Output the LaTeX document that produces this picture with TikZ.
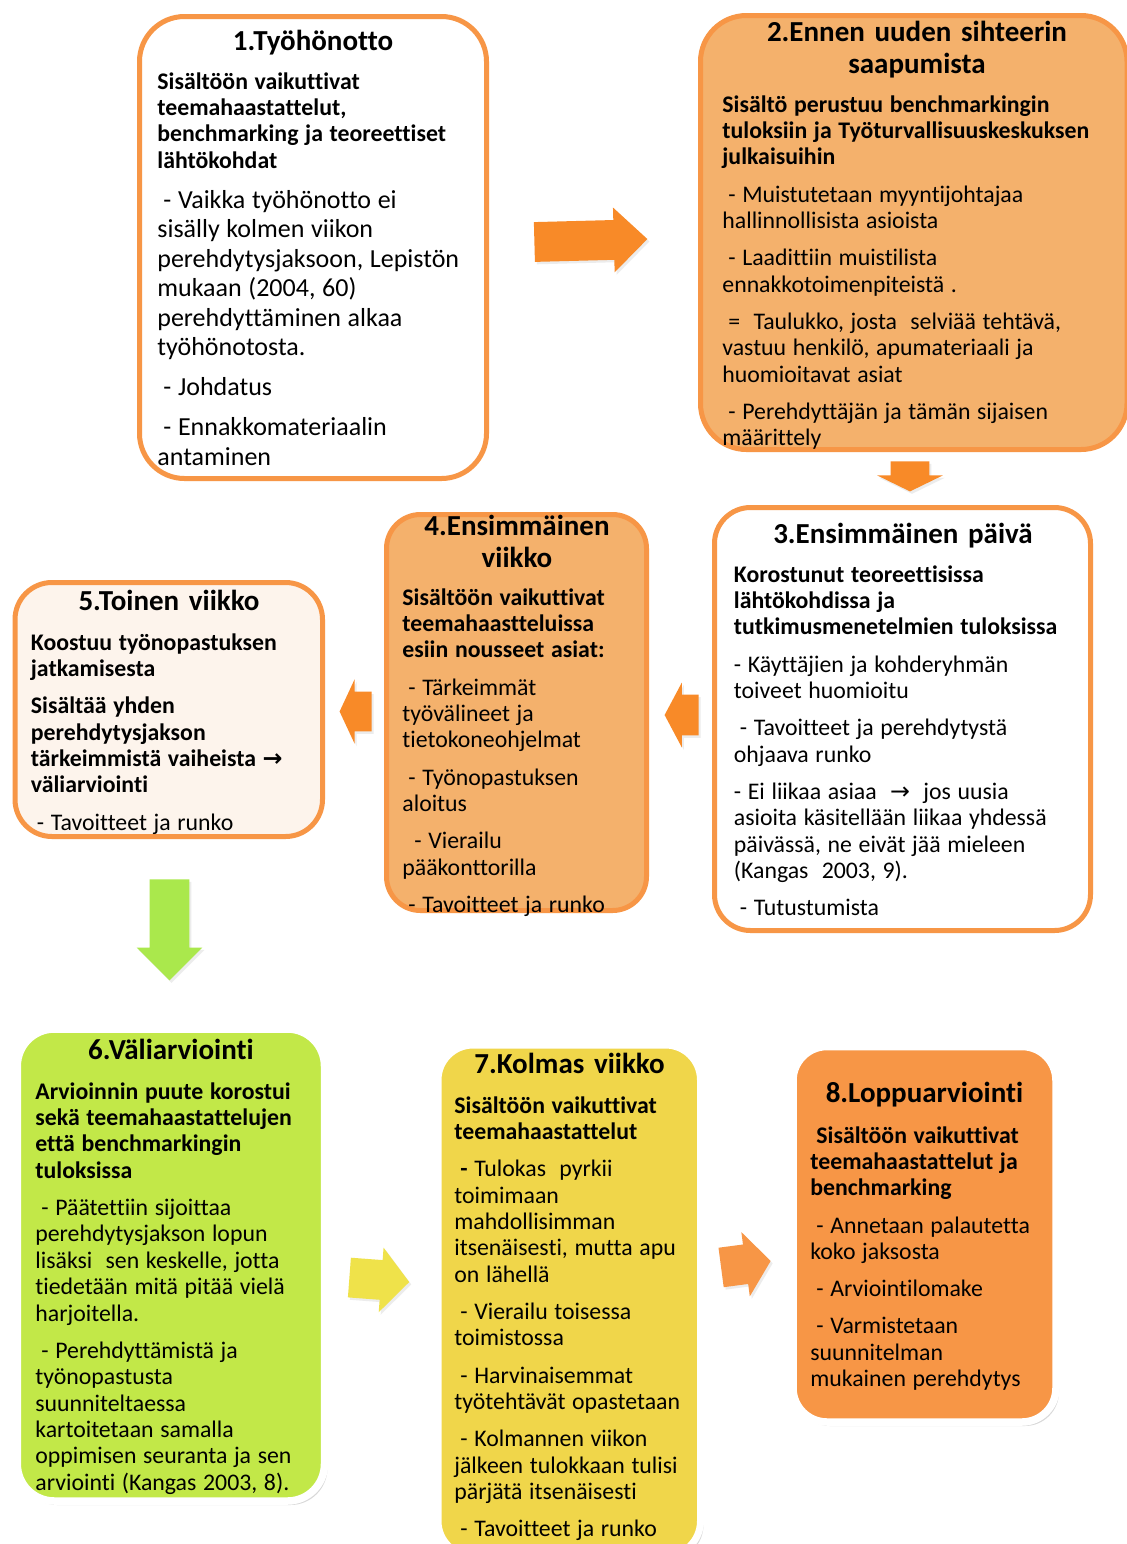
\documentclass[tikz,border=0pt]{standalone}
\usepackage{fontspec}
\setmainfont{Carlito}[Ligatures={TeX,NoCommon}]
\newfontfamily\symfont{DejaVu Sans}
\usepackage{xcolor}
\usepackage{tikz}
\usetikzlibrary{positioning,fit,shapes.arrows,shadows}
\definecolor{obrd}{RGB}{247,150,70}
\definecolor{olight}{RGB}{244,177,108}
\definecolor{ocream}{RGB}{253,244,236}
\definecolor{gfill}{RGB}{194,232,72}
\definecolor{yfill}{RGB}{240,214,74}
\definecolor{oarrow}{RGB}{248,138,40}
\definecolor{garrow}{RGB}{170,232,76}
\definecolor{yarrow}{RGB}{239,226,74}
\newcommand{\subfont}{\fontsize{11.9}{13.2}\selectfont\bfseries}
\newcommand{\bodyfont}{\fontsize{11.9}{13.2}\selectfont\mdseries}
\newcommand{\bigbody}{\fontsize{13}{14.7}\selectfont\mdseries}
\newcommand{\ind}{\hspace*{3pt}}
\tikzset{
  wbox/.style={draw=obrd, line width=2.5pt, inner sep=0pt, fill=white},
  obox/.style={wbox, fill=olight},
  cbox/.style={wbox, fill=ocream},
  sbox/.style={draw=white, line width=3.75pt, inner sep=0pt,
    drop shadow={shadow xshift=1.5pt, shadow yshift=-2pt, opacity=0.3}},
  ttl/.style={anchor=base, text width=170pt, align=center, inner sep=0pt,
    font=\fontsize{14.5}{16}\selectfont\bfseries},
  txt/.style={anchor=base west, text width=205pt, align=left, inner sep=0pt},
  barrow/.style={single arrow, draw=none, inner sep=0pt, inner ysep=9.75pt,
    single arrow head extend=6.25pt, minimum width=0pt, anchor=tail,
    drop shadow={shadow xshift=1pt, shadow yshift=-1.2pt, opacity=0.15}},
}

\begin{document}
\begin{tikzpicture}[x=0.5pt, y=-0.5pt]
  \useasboundingbox[fill=white] (0,0) rectangle (1126,1544);

  \node[wbox, rounded corners=22.5pt, fit={(139.5,16.5) (486.5,478.5)}] (b1) {};
  \node[obox, rounded corners=23pt, fit={(700.5,15.5) (1127,449.5)}] (b2) {};
  \node[wbox, rounded corners=18pt, fit={(714.5,507.5) (1090.5,930.5)}] (b3) {};
  \node[obox, rounded corners=17pt, fit={(386.5,514.5) (646.5,910.5)}] (b4) {};
  \node[cbox, rounded corners=18.5pt, fit={(15,582.5) (322.5,836.5)}] (b5) {};
  \node[sbox, fill=gfill, rounded corners=18.5pt, fit={(17.3,1029) (324.5,1501)}] (b6) {};
  \node[sbox, fill=yfill, line width=3.5pt, rounded corners=17.5pt, fit={(438,1045) (700.5,1556)}] (b7) {};
  \node[sbox, fill=obrd, rounded corners=17pt, fit={(793,1046.5) (1056,1422)}] (b8) {};

  \node[ttl] (h1) at (313,50) {1.Työhönotto};
  \node[txt] (c1) at (157,89) {\subfont Sisältöön vaikuttivat\\ teemahaastattelut,\\
    benchmarking ja teoreettiset\\ lähtökohdat\\[5.4pt]
    \bigbody\ind- Vaikka työhönotto ei\\ sisälly kolmen viikon\\ perehdytysjaksoon, Lepistön\\
    mukaan (2004, 60)\\ perehdyttäminen alkaa\\ työhönotosta.\\[5.4pt]
    \ind- Johdatus\\[5.4pt]
    \ind- Ennakkomateriaalin\\ antaminen\par};

  \node[ttl] (h2) at (917,41) {2.Ennen uuden sihteerin\\ saapumista};
  \node[txt] (c2) at (722,112) {\subfont Sisältö perustuu benchmarkingin\\
    tuloksiin ja Työturvallisuuskeskuksen\\ julkaisuihin\\[5.4pt]
    \bodyfont\ind- Muistutetaan myyntijohtajaa\\ hallinnollisista asioista\\[5.4pt]
    \ind- Laadittiin muistilista\\ ennakkotoimenpiteistä .\\[5.4pt]
    \ind= \ Taulukko, josta \ selviää tehtävä,\\ vastuu henkilö, apumateriaali ja\\ huomioitavat asiat\\[5.4pt]
    \ind- Perehdyttäjän ja tämän sijaisen\\ määrittely\par};

  \node[ttl] (h3) at (903,543) {3.Ensimmäinen päivä};
  \node[txt] (c3) at (733.5,582) {\subfont Korostunut teoreettisissa\\ lähtökohdissa ja\\
    tutkimusmenetelmien tuloksissa\\[5.4pt]
    \bodyfont - Käyttäjien ja kohderyhmän\\ toiveet huomioitu\\[5.4pt]
    \ind- Tavoitteet ja perehdytystä\\ ohjaava runko\\[5.4pt]
    - Ei liikaa asiaa \ {\symfont →} \ jos uusia\\ asioita käsitellään liikaa yhdessä\\
    päivässä, ne eivät jää mieleen\\ (Kangas \ 2003, 9).\\[5.4pt]
    \ind- Tutustumista\par};

  \node[ttl] (h4) at (517,535) {4.Ensimmäinen\\ viikko};
  \node[txt] (c4) at (402,605) {\subfont Sisältöön vaikuttivat\\ teemahaastteluissa\\
    esiin nousseet asiat:\\[5.4pt]
    \bodyfont\ind- Tärkeimmät\\ työvälineet ja\\ tietokoneohjelmat\\[5.4pt]
    \ind- Työnopastuksen\\ aloitus\\[5.4pt]
    \ind\ind- Vierailu\\ pääkonttorilla\\[5.4pt]
    \ind- Tavoitteet ja runko\par};

  \node[ttl] (h5) at (169,610) {5.Toinen viikko};
  \node[txt] (c5) at (30.5,650) {\subfont Koostuu työnopastuksen\\ jatkamisesta\\[5.4pt]
    Sisältää yhden\\ perehdytysjakson\\ tärkeimmistä vaiheista {\symfont\bfseries →}\\ väliarviointi\\[5.4pt]
    \bodyfont\ind- Tavoitteet ja runko\par};

  \node[ttl] (h6) at (171,1059) {6.Väliarviointi};
  \node[txt] (c6) at (35,1099) {\subfont Arvioinnin puute korostui\\ sekä teemahaastattelujen\\
    että benchmarkingin\\ tuloksissa\\[5.4pt]
    \bodyfont\ind- Päätettiin sijoittaa\\ perehdytysjakson lopun\\ lisäksi \ sen keskelle, jotta\\
    tiedetään mitä pitää vielä\\ harjoitella.\\[5.4pt]
    \ind- Perehdyttämistä ja\\ työnopastusta\\ suunniteltaessa\\ kartoitetaan samalla\\
    oppimisen seuranta ja sen\\ arviointi (Kangas 2003, 8).\par};

  \node[ttl] (h7) at (569.5,1073) {7.Kolmas viikko};
  \node[txt] (c7) at (454,1113) {\subfont Sisältöön vaikuttivat\\ teemahaastattelut\\[5.4pt]
    \bodyfont\ind{\bfseries -} Tulokas \ pyrkii\\ toimimaan\\ mahdollisimman\\
    itsenäisesti, mutta apu\\ on lähellä\\[5.4pt]
    \ind- Vierailu toisessa\\ toimistossa\\[5.4pt]
    \ind- Harvinaisemmat\\ työtehtävät opastetaan\\[5.4pt]
    \ind- Kolmannen viikon\\ jälkeen tulokkaan tulisi\\ pärjätä itsenäisesti\\[5.4pt]
    \ind- Tavoitteet ja runko\par};

  \node[ttl] (h8) at (924.5,1102) {8.Loppuarviointi};
  \node[txt] (c8) at (810,1143) {\subfont\ind Sisältöön vaikuttivat\\ teemahaastattelut ja\\ benchmarking\\[5.4pt]
    \bodyfont\ind- Annetaan palautetta\\ koko jaksosta\\[5.4pt]
    \ind- Arviointilomake\\[5.4pt]
    \ind- Varmistetaan\\ suunnitelman\\ mukainen perehdytys\par};

  \node[barrow, fill=oarrow, minimum height=56.5pt, single arrow tip angle=88, rotate=1.5] (a12) at (534,242) {};
  \node[barrow, fill=oarrow, minimum height=15pt, inner ysep=9.5pt, single arrow head extend=6.75pt,
    single arrow tip angle=128, rotate=-90] (a23) at (910,461) {};
  \node[barrow, fill=oarrow, minimum height=17pt, inner ysep=10pt, single arrow head extend=6pt,
    single arrow tip angle=124, rotate=180] (a34) at (699,715) {};
  \node[barrow, fill=oarrow, minimum height=16pt, single arrow tip angle=130, rotate=180] (a45) at (372,711.5) {};
  \node[barrow, fill=garrow, minimum height=50.5pt, single arrow head extend=6.5pt,
    single arrow tip angle=90, rotate=-90] (a56) at (169.5,879) {};
  \node[barrow, fill=yarrow, minimum height=30pt, single arrow tip angle=98, rotate=-4.3] (a67) at (349,1277.5) {};
  \node[barrow, fill=obrd, minimum height=25pt, single arrow tip angle=104, rotate=7.5] (a78) at (720.7,1267.5) {};
\end{tikzpicture}
\end{document}
